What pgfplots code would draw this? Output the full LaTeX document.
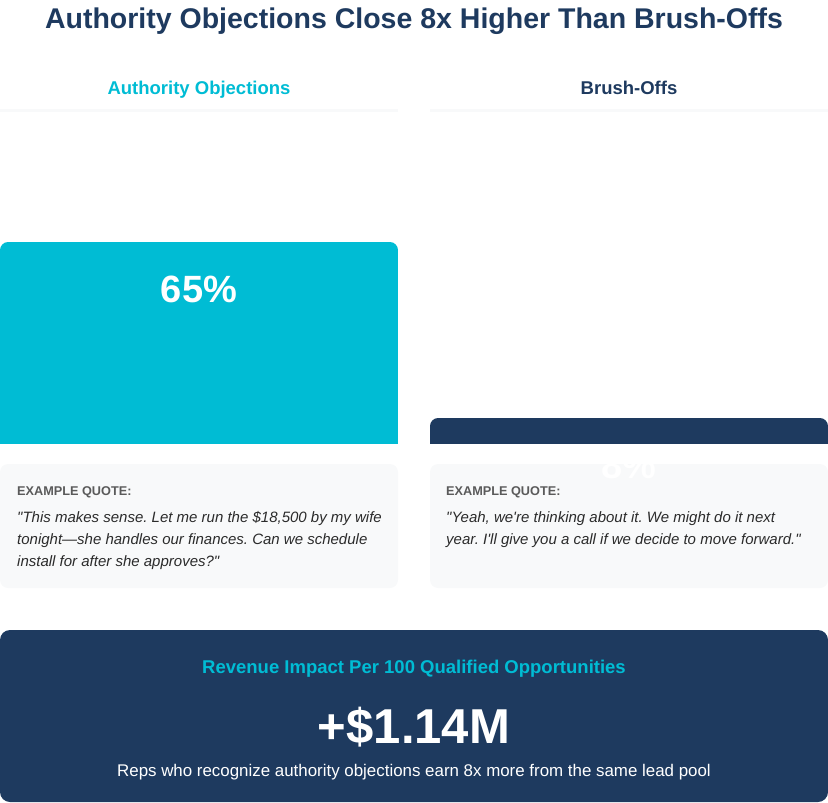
\documentclass[border=0pt]{standalone}
\usepackage{fontspec}
\setmainfont{Liberation Sans}[Ligatures=TeXOff]
\usepackage{pgfplots}
\pgfplotsset{compat=1.18}
\frenchspacing

\definecolor{navy}{HTML}{1E3A5F}
\definecolor{brandcyan}{HTML}{00BCD4}
\definecolor{quotebg}{HTML}{F8F9FA}
\definecolor{labelgray}{HTML}{5A5A5A}
\definecolor{quotetext}{HTML}{2B2B2B}

% close rates (%)
\pgfplotstableread{
x rate
0 65
}\authority
\pgfplotstableread{
x rate
1 8
}\brushoff

\begin{document}
\begin{tikzpicture}
\path[use as bounding box] (0pt,0pt) rectangle (828pt,-803pt);

% title and panel headers
\node[anchor=base, text=navy, font=\fontsize{28.5}{32}\selectfont\bfseries]
  at (414pt,-28.5pt) {Authority Objections Close 8x Higher Than Brush-Offs};
\node[anchor=base, text=brandcyan, font=\fontsize{18.5}{22}\selectfont\bfseries]
  at (199pt,-94pt) {Authority Objections};
\node[anchor=base, text=navy, font=\fontsize{18.5}{22}\selectfont\bfseries]
  at (629pt,-94pt) {Brush-Offs};
\fill[quotebg] (0pt,-108.5pt) rectangle (398pt,-112pt);
\fill[quotebg] (430pt,-108.5pt) rectangle (828pt,-112pt);

% quote cards
\fill[quotebg, rounded corners=8pt] (0pt,-464pt) rectangle (398pt,-588pt);
\fill[quotebg, rounded corners=8pt] (430pt,-464pt) rectangle (828pt,-588pt);
\begin{scope}[every node/.style={anchor=base west, inner sep=0pt}]
\node[text=labelgray, font=\fontsize{12.7}{14}\selectfont\bfseries] at (17pt,-495pt) {EXAMPLE QUOTE:};
\node[text=labelgray, font=\fontsize{12.7}{14}\selectfont\bfseries] at (446pt,-495pt) {EXAMPLE QUOTE:};
\begin{scope}[every node/.append style={text=quotetext, font=\fontsize{15}{18}\selectfont\itshape}]
\node at (17pt,-522pt) {"This makes sense. Let me run the \$18,500 by my wife};
\node at (17pt,-544pt) {tonight—she handles our finances. Can we schedule};
\node at (17pt,-566pt) {install for after she approves?"};
\node at (446pt,-522pt) {"Yeah, we're thinking about it. We might do it next};
\node at (446pt,-544pt) {year. I'll give you a call if we decide to move forward."};
\end{scope}
\end{scope}

% bars
\begin{axis}[
  at={(0pt,-443pt)}, anchor=south west,
  scale only axis, width=828pt, height=309pt,
  xmin=-0.46279, xmax=1.46279, ymin=0, ymax=100,
  hide axis, clip=true, clip mode=global,
  ybar, bar width=382pt,
  /pgf/number format/assume math mode=true,
  nodes near coords={\pgfmathprintnumber{\pgfplotspointmeta}\%},
  every node near coord/.append style={font=\fontsize{38}{40}\selectfont\bfseries,
    text=white, anchor=base, yshift=-52pt},
]
\addplot[bar shift=0pt, fill=brandcyan, draw=brandcyan, line width=16pt,
  line join=round, yshift=-8pt] table[x=x, y=rate] {\authority};
\addplot[bar shift=0pt, fill=navy, draw=navy, line width=16pt,
  line join=round, yshift=-8pt] table[x=x, y=rate] {\brushoff};
\end{axis}

% revenue impact panel
\fill[navy, rounded corners=10pt] (0pt,-630pt) rectangle (828pt,-802pt);
\node[anchor=base, text=brandcyan, font=\fontsize{18.5}{22}\selectfont\bfseries]
  at (414pt,-673pt) {Revenue Impact Per 100 Qualified Opportunities};
\node[anchor=base, text=white, font=\fontsize{49}{52}\selectfont\bfseries]
  at (414pt,-743pt) {+\$1.14M};
\node[anchor=base, text=white, font=\fontsize{16.9}{20}\selectfont]
  at (414pt,-776pt) {Reps who recognize authority objections earn 8x more from the same lead pool};
\end{tikzpicture}
\end{document}
